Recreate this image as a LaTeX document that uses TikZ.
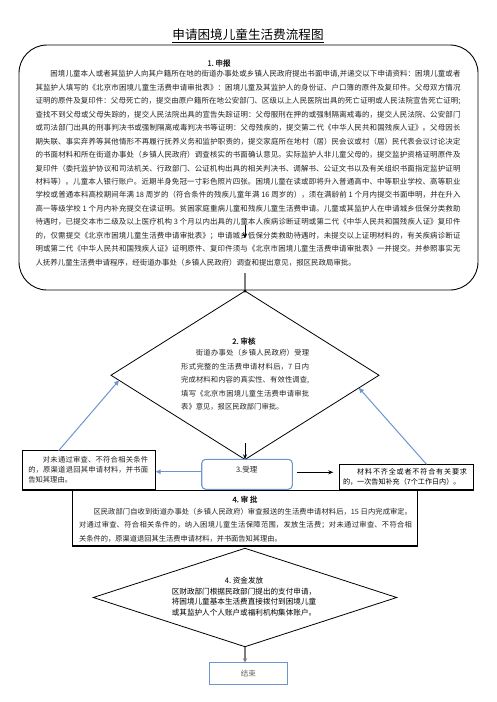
\documentclass[tikz,border=0pt]{standalone}
\usepackage{fontspec}
\newfontfamily\cjk{Noto Sans CJK SC}
\newfontfamily\cjkb[FakeBold=1.2]{Noto Sans CJK SC}
\XeTeXlinebreaklocale "zh"
\XeTeXlinebreakskip=0pt plus 1pt
\usetikzlibrary{shapes.geometric,arrows.meta,calc}
\definecolor{blueline}{RGB}{108,150,205}
\definecolor{boxblue}{RGB}{110,150,205}
\definecolor{grayline}{RGB}{125,125,125}
\definecolor{txt}{RGB}{35,35,35}
\newcommand{\mytitlefont}{\cjk\fontsize{12.6}{14}\selectfont}
\newcommand{\myheadfont}{\cjkb\fontsize{7.6}{9}\selectfont}
\newcommand{\mybodyfont}{\cjk\fontsize{7.45}{13.45}\selectfont\tolerance=10000\hbadness=10000}
\newcommand{\mydiafont}{\cjk\fontsize{7.3}{13.45}\selectfont\tolerance=10000\hbadness=10000}
\newcommand{\myfourfont}{\cjk\fontsize{7.25}{13.3}\selectfont\tolerance=10000\hbadness=10000}
\newcommand{\myleftfont}{\cjk\fontsize{7.3}{10.4}\selectfont\tolerance=10000\hbadness=10000}
\newcommand{\myrightfont}{\cjk\fontsize{7.1}{10}\selectfont\tolerance=10000\hbadness=10000}
\newcommand{\mydfourfont}{\cjk\fontsize{7.6}{10.4}\selectfont}
\newcommand{\mysmallfont}{\cjk\fontsize{7.5}{9}\selectfont}
\tikzset{
  every node/.style={inner sep=0pt, outer sep=0pt, text=txt},
  para/.style={align=justify, anchor=north},
  blackbox/.style={draw=black, line width=1.1pt},
  dia/.style={diamond, draw=black, line width=0.8pt, inner sep=0pt},
  bluearrow/.style={draw=blueline, line width=1pt, -{Triangle[length=5pt,width=4.5pt]}},
  blackarrow/.style={draw=black, line width=0.9pt, -{Stealth[length=5pt,width=4pt]}},
  grayarrow/.style={draw=grayline, line width=1.6pt},
}
\begin{document}
\begin{tikzpicture}[x=1pt,y=-1pt]
\useasboundingbox (0,0) rectangle (496,702);
\fill[white] (0,0) rectangle (496,702);

\node[font=\mytitlefont, text=black] (title) at (248,35.5) {\underline{申请困境儿童生活费流程图}};

% box 1
\node[draw=black, line width=0.9pt, rounded corners=28pt, minimum width=459pt, minimum height=245pt] (b1) at (248.5,167.5) {};
\node[font=\myheadfont] (h1) at (219,63) {1.\ 申报};
\node[para, text width=425pt, font=\mybodyfont] (t1) at (248,70.6) {\hspace*{2em}困境儿童本人或者其监护人向其户籍所在地的街道办事处或乡镇人民政府提出书面申请,并递交以下申请资料：困境儿童或者\linebreak
其监护人填写的《北京市困境儿童生活费申请审批表》：困境儿童及其监护人的身份证、户口簿的原件及复印件。父母双方情况\linebreak
证明的原件及复印件：父母死亡的，提交由原户籍所在地公安部门、区级以上人民医院出具的死亡证明或人民法院宣告死亡证明;\linebreak
查找不到父母或父母失踪的，提交人民法院出具的宣告失踪证明：父母服刑在押的或强制隔离戒毒的，提交人民法院、公安部门\linebreak
或司法部门出具的刑事判决书或强制隔离戒毒判决书等证明：父母残疾的，提交第二代《中华人民共和国残疾人证》。父母因长\linebreak
期失联、事实弃养等其他情形不再履行抚养义务和监护职责的，提交家庭所在地村（居）民会议或村（居）民代表会议讨论决定\linebreak
的书面材料和所在街道办事处（乡镇人民政府）调查核实的书面确认意见。实际监护人非儿童父母的，提交监护资格证明原件及\linebreak
复印件（委托监护协议和司法机关、行政部门、公证机构出具的相关判决书、调解书、公证文书以及有关组织书面指定监护证明\linebreak
材料等）。儿童本人银行账户。近期半身免冠一寸彩色照片四张。困境儿童在读或即将升入普通高中、中等职业学校、高等职业\linebreak
学校或普通本科高校期间年满 18 周岁的（符合条件的残疾儿童年满 16 周岁的），须在满龄前 1 个月内提交书面申明，并在升入\linebreak
高一等级学校 1 个月内补充提交在读证明。贫困家庭重病儿童和残疾儿童生活费申请。儿童或其监护人在申请城乡低保分类救助\linebreak
待遇时，已提交本市二级及以上医疗机构 3 个月以内出具的儿童本人疾病诊断证明或第二代《中华人民共和国残疾人证》复印件\linebreak
的，仅需提交《北京市困境儿童生活费申请审批表》；申请城乡低保分类救助待遇时，未提交以上证明材料的，有关疾病诊断证\linebreak
明或第二代《中华人民共和国残疾人证》证明原件、复印件须与《北京市困境儿童生活费申请审批表》一并提交。并参照事实无\linebreak
人抚养儿童生活费申请程序，经街道办事处（乡镇人民政府）调查和提出意见，报区民政局审批。};
\coordinate (a1s) at (245,225);
\coordinate (a1e) at (245,238.5);
\draw[blackarrow] (a1s) -- (a1e);

% diamond 2
\node[dia, minimum width=268pt, minimum height=168.5pt] (d2) at (245,375.25) {};
\coordinate (g1) at (245,273);
\draw[grayarrow] (g1) -- (d2.north);
\fill[black] (d2.north) circle (1.6pt);
\node[font=\myheadfont] (h2) at (244,341) {2.\ 审核};
\node[para, text width=128pt, font=\mydiafont] (t2) at (245.2,349.4) {\hspace*{2em}街道办事处（乡镇人民政府）受理\linebreak
形式完整的生活费申请材料后，7 日内\linebreak
完成材料和内容的真实性、有效性调查,\linebreak
填写《北京市困境儿童生活费申请审批\linebreak
表》意见，报区民政部门审批。};

% 3 accept
\node[draw=boxblue, line width=1.1pt, rounded corners=4pt, minimum width=90.6pt, minimum height=30pt] (s3) at (247,474.3) {};
\node[font=\mysmallfont] (s3t) at (246.7,470) {3.受理};
\coordinate (a3s) at (245,443);
\draw[blackarrow] (a3s) -- (a3s |- s3.north);

% left box
\node[blackbox, minimum width=133pt, minimum height=39.3pt] (lb) at (89.2,470.35) {};
\node[para, text width=120pt, font=\myleftfont] (lbt) at (88.3,456) {\hspace*{2em}对未通过审查、不符合相关条件\linebreak
的，原渠道退回其申请材料，并书面\linebreak
告知其理由。};

% right box
\node[blackbox, minimum width=134.2pt, minimum height=25.7pt] (rb) at (406.4,477.15) {};
\node[para, text width=124pt, font=\myrightfont, text=black] (rbt) at (405,468.4) {\hspace*{2em}材料不齐全或者不符合有关要求\linebreak
的，一次告知补充（7个工作日内）。};

% arrows around 3
\coordinate (s3w) at ($(s3.west)+(0,-2.6)$);
\draw[bluearrow] (s3w) -- (s3w -| lb.east);
\coordinate (s3e) at ($(s3.east)+(0,-2)$);
\draw[blackarrow, shorten <=4.5pt, shorten >=6pt] (s3e) -- (s3e -| rb.west);
\draw[bluearrow] ($(lb.north west)!0.27!(lb.north east)$) -- ($(d2.west)!0.06!(d2.south)$);
\draw[bluearrow] ($(rb.north west)!0.65!(rb.north east)$) -- ($(d2.east)!0.15!(d2.south)$);

% box 4
\node[blackbox, minimum width=344.6pt, minimum height=55.3pt] (b4) at (245,518.35) {};
\node[font=\myheadfont] (h4) at (245,499.3) {4.\ 审\ 批};
\node[para, text width=333pt, font=\myfourfont] (t4) at (245.5,508.4) {\hspace*{2em}区民政部门自收到街道办事处（乡镇人民政府）审查报送的生活费申请材料后，15 日内完成审定。\linebreak
对通过审查、符合相关条件的，纳入困境儿童生活保障范围，发放生活费；对未通过审查、不符合相\linebreak
关条件的，原渠道退回其生活费申请材料，并书面告知其理由。};

% diamond 4
\node[dia, minimum width=303.4pt, minimum height=98.4pt] (d4) at (245,597.5) {};
\node[align=center, font=\mydfourfont, text=black] (t5) at (244,596.5) {4.\ 资金发放\\
区财政部门根据民政部门提出的支付申请，\\
将困境儿童基本生活费直接拨付到困境儿童\\
或其监护人个人账户或福利机构集体账户。};

% end
\node[draw=boxblue, line width=1.1pt, minimum width=78pt, minimum height=22pt, font=\mysmallfont, text=black!60] (e) at (248.3,673.3) {结束};
\draw[grayarrow, -{Stealth[length=4pt,width=4.5pt]}] (d4.south) -- (d4.south |- e.north);
\end{tikzpicture}
\end{document}
